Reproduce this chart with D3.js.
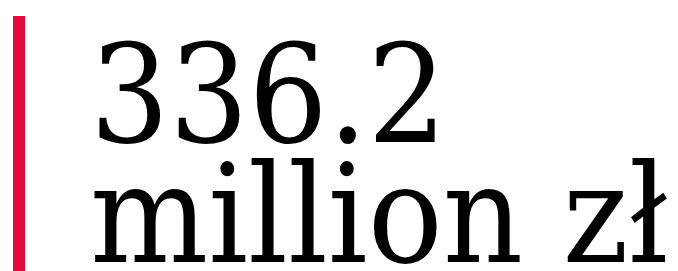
<!DOCTYPE html>
<html>
<head>
<meta charset="utf-8">
<script src="https://cdn.jsdelivr.net/npm/d3@7"></script>
<style>
  html, body { margin:0; padding:0; background:#fff; }
  svg { display:block; }
</style>
</head>
<body>
<div id="chart"></div>
<script>
// figure shown
var values = [336.2]
var units = ['million zł']

var w = 678
var h = 271

var svg = d3.select('#chart').append('svg')
    .attr('width', w)
    .attr('height', h)

// red accent bar
svg.append('rect')
    .attr('x', 13)
    .attr('y', 16)
    .attr('width', 12)
    .attr('height', h - 16)
    .style('fill', '#e30b3b')

var fmt = d3.format('.1f')
var lines = [fmt(values[0]), units[0]]

// DejaVu Serif runs wider than the original face, squeeze it a bit
var sx = 0.91

svg.selectAll('text.big')
    .data(lines)
  .enter().append('text')
    .attr('class', 'big')
    .attr('transform', (d, i) => 'translate(90,' + (142 + i * 120) + ') scale(' + sx + ',1)')
    .style('font-family', '"DejaVu Serif", serif')
    .style('font-size', '137px')
    .style('fill', '#000')
    .text(d => d)
</script>
</body>
</html>
